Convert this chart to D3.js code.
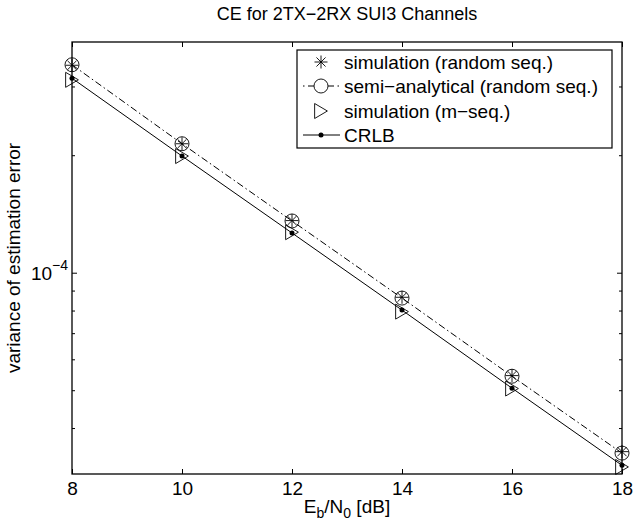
<!DOCTYPE html>
<html lang="en">
    <head>
       <meta charset="utf-8">
       <script src="https://d3js.org/d3.v7.min.js"></script>
       <style>
           body { margin: 0; background: #fff; }
           text { font-family: "Liberation Sans", Arial, sans-serif; fill: #000; }
       </style>
    </head>
    <body>
        <script>
            var width  = 635;
            var height = 523;

            // Eb/N0 values in dB
            var snr = [8, 10, 12, 14, 16, 18];

            // variance of the estimation error
            var sim_random  = [3.40e-4, 2.14e-4, 1.36e-4, 0.865e-4, 0.545e-4, 0.348e-4];
            var semi_random = [3.41e-4, 2.14e-4, 1.357e-4, 0.861e-4, 0.543e-4, 0.345e-4];
            var sim_mseq    = [3.12e-4, 1.99e-4, 1.27e-4, 0.795e-4, 0.505e-4, 0.318e-4];
            var crlb        = [3.15e-4, 1.99e-4, 1.264e-4, 0.802e-4, 0.506e-4, 0.321e-4];

            var x_ticks = [8, 10, 12, 14, 16, 18];
            var y_major = [1e-4];
            var y_minor = [4e-5, 5e-5, 6e-5, 7e-5, 8e-5, 9e-5, 2e-4, 3e-4];

            var legend_labels = ['simulation (random seq.)', 'semi\u2212analytical (random seq.)',
                                 'simulation (m\u2212seq.)', 'CRLB'];

            // plot box (window.top is reserved, so use p_ prefixes)
            var p_left = 72, p_right = 622, p_top = 42, p_bottom = 474;

            var x = d3.scaleLinear().domain([8, 18]).range([p_left, p_right]);
            var y = d3.scaleLog().domain([3.05e-5, 3.9e-4]).range([p_bottom, p_top]);

            var svg = d3.select("body")
                        .append("svg")
                        .attr("id", "canvas")
                        .attr("width", width)
                        .attr("height", height);

            var font_size = 19;

            // title
            svg.append("text")
               .attr("x", (p_left + p_right) / 2)
               .attr("y", 20)
               .attr("text-anchor", "middle")
               .style("font-size", "18px")
               .text("CE for 2TX\u22122RX SUI3 Channels");

            // x axes (bottom with labels, top with ticks only)
            svg.append("g")
               .attr("transform", "translate(0," + p_bottom + ")")
               .call(d3.axisBottom(x).tickValues(x_ticks).tickSizeInner(-5).tickSizeOuter(0).tickPadding(8)
                       .tickFormat(d3.format("d")))
               .call(function(g) {
                   g.select(".domain").remove();
                   g.selectAll("text").style("font-size", font_size + "px").attr("font-family", null);
               });

            svg.append("g")
               .attr("transform", "translate(0," + p_top + ")")
               .call(d3.axisTop(x).tickValues(x_ticks).tickSizeInner(-5).tickSizeOuter(0).tickFormat(""))
               .call(function(g) { g.select(".domain").remove(); });

            // y axes, major and minor ticks
            function yTicks(values, len) {
                svg.append("g")
                   .attr("transform", "translate(" + p_left + ",0)")
                   .call(d3.axisLeft(y).tickValues(values).tickSizeInner(-len).tickSizeOuter(0).tickFormat(""))
                   .call(function(g) { g.select(".domain").remove(); });
                svg.append("g")
                   .attr("transform", "translate(" + p_right + ",0)")
                   .call(d3.axisRight(y).tickValues(values).tickSizeInner(-len).tickSizeOuter(0).tickFormat(""))
                   .call(function(g) { g.select(".domain").remove(); });
            }
            yTicks(y_major, 5);
            yTicks(y_minor, 3);

            // 10^-4 label
            y_major.forEach(function(v) {
                var t = svg.append("text")
                           .attr("x", p_left - 4)
                           .attr("y", y(v) + 7)
                           .attr("text-anchor", "end")
                           .style("font-size", font_size + "px");
                t.append("tspan").text("10");
                t.append("tspan").attr("dy", -10).style("font-size", "14px").text("\u22124");
            });

            // box
            svg.append("rect")
               .attr("x", p_left).attr("y", p_top)
               .attr("width", p_right - p_left).attr("height", p_bottom - p_top)
               .attr("fill", "none").attr("stroke", "#000").attr("stroke-width", 1.3);

            // axis labels
            var xl = svg.append("text")
                        .attr("x", (p_left + p_right) / 2)
                        .attr("y", 513)
                        .attr("text-anchor", "middle")
                        .style("font-size", font_size + "px");
            xl.append("tspan").text("E");
            xl.append("tspan").attr("dy", 5).style("font-size", "14px").text("b");
            xl.append("tspan").attr("dy", -5).text("/N");
            xl.append("tspan").attr("dy", 5).style("font-size", "14px").text("0");
            xl.append("tspan").attr("dy", -5).text(" [dB]");

            svg.append("text")
               .attr("transform", "translate(20," + ((p_top + p_bottom) / 2) + ") rotate(-90)")
               .attr("text-anchor", "middle")
               .style("font-size", font_size + "px")
               .text("variance of estimation error");

            // marker helpers
            function star(g, cx, cy, s) {
                var p = "M" + (cx - s) + "," + cy + "H" + (cx + s) +
                        "M" + cx + "," + (cy - s) + "V" + (cy + s) +
                        "M" + (cx - s * 0.7) + "," + (cy - s * 0.7) + "L" + (cx + s * 0.7) + "," + (cy + s * 0.7) +
                        "M" + (cx - s * 0.7) + "," + (cy + s * 0.7) + "L" + (cx + s * 0.7) + "," + (cy - s * 0.7);
                g.append("path").attr("d", p).attr("stroke", "#000").attr("stroke-width", 0.9).attr("fill", "none");
            }
            function circle(g, cx, cy, r) {
                g.append("circle").attr("cx", cx).attr("cy", cy).attr("r", r)
                 .attr("fill", "none").attr("stroke", "#000").attr("stroke-width", 0.9);
            }
            function triangle(g, cx, cy, s) {
                var p = "M" + (cx - s * 0.85) + "," + (cy - s) + "L" + (cx + s * 0.85) + "," + cy +
                        "L" + (cx - s * 0.85) + "," + (cy + s) + "Z";
                g.append("path").attr("d", p).attr("stroke", "#000").attr("stroke-width", 0.9).attr("fill", "none");
            }
            function dot(g, cx, cy) {
                g.append("circle").attr("cx", cx).attr("cy", cy).attr("r", 2.5).attr("fill", "#000");
            }

            var line = d3.line()
                         .x(function(d, i) { return x(snr[i]); })
                         .y(function(d) { return y(d); });

            var plot = svg.append("g");

            // CRLB solid line
            plot.append("path").attr("d", line(crlb))
                .attr("fill", "none").attr("stroke", "#000").attr("stroke-width", 1);

            // semi-analytical dash-dot line
            plot.append("path").attr("d", line(semi_random))
                .attr("fill", "none").attr("stroke", "#000").attr("stroke-width", 1)
                .attr("stroke-dasharray", "7,3,1.5,3");

            sim_random.forEach(function(v, i) { star(plot, x(snr[i]), y(v), 6.5); });
            semi_random.forEach(function(v, i) { circle(plot, x(snr[i]), y(v), 7); });
            sim_mseq.forEach(function(v, i) { triangle(plot, x(snr[i]), y(v), 7.5); });
            crlb.forEach(function(v, i) { dot(plot, x(snr[i]), y(v)); });

            // legend
            var lg = svg.append("g");
            lg.append("rect")
              .attr("x", 297).attr("y", 50).attr("width", 315).attr("height", 98)
              .attr("fill", "#fff").attr("stroke", "#000").attr("stroke-width", 1.2);

            var leg_y = [62, 86, 111, 135];
            var mx = 321;
            legend_labels.forEach(function(lab, i) {
                lg.append("text")
                  .attr("x", 344)
                  .attr("y", leg_y[i] + 7)
                  .style("font-size", font_size + "px")
                  .text(lab);
            });
            star(lg, mx, leg_y[0], 6.5);
            // dash-dot sample, broken around the circle
            [[303, 304.5], [308, 314], [328, 334], [337.5, 339]].forEach(function(s) {
                lg.append("line").attr("x1", s[0]).attr("x2", s[1]).attr("y1", leg_y[1]).attr("y2", leg_y[1])
                  .attr("stroke", "#000").attr("stroke-width", 1);
            });
            circle(lg, mx, leg_y[1], 7);
            triangle(lg, mx, leg_y[2], 7.5);
            lg.append("line").attr("x1", 303).attr("x2", 340).attr("y1", leg_y[3]).attr("y2", leg_y[3])
              .attr("stroke", "#000").attr("stroke-width", 1);
            dot(lg, mx, leg_y[3]);
        </script>
    </body>
</html>
